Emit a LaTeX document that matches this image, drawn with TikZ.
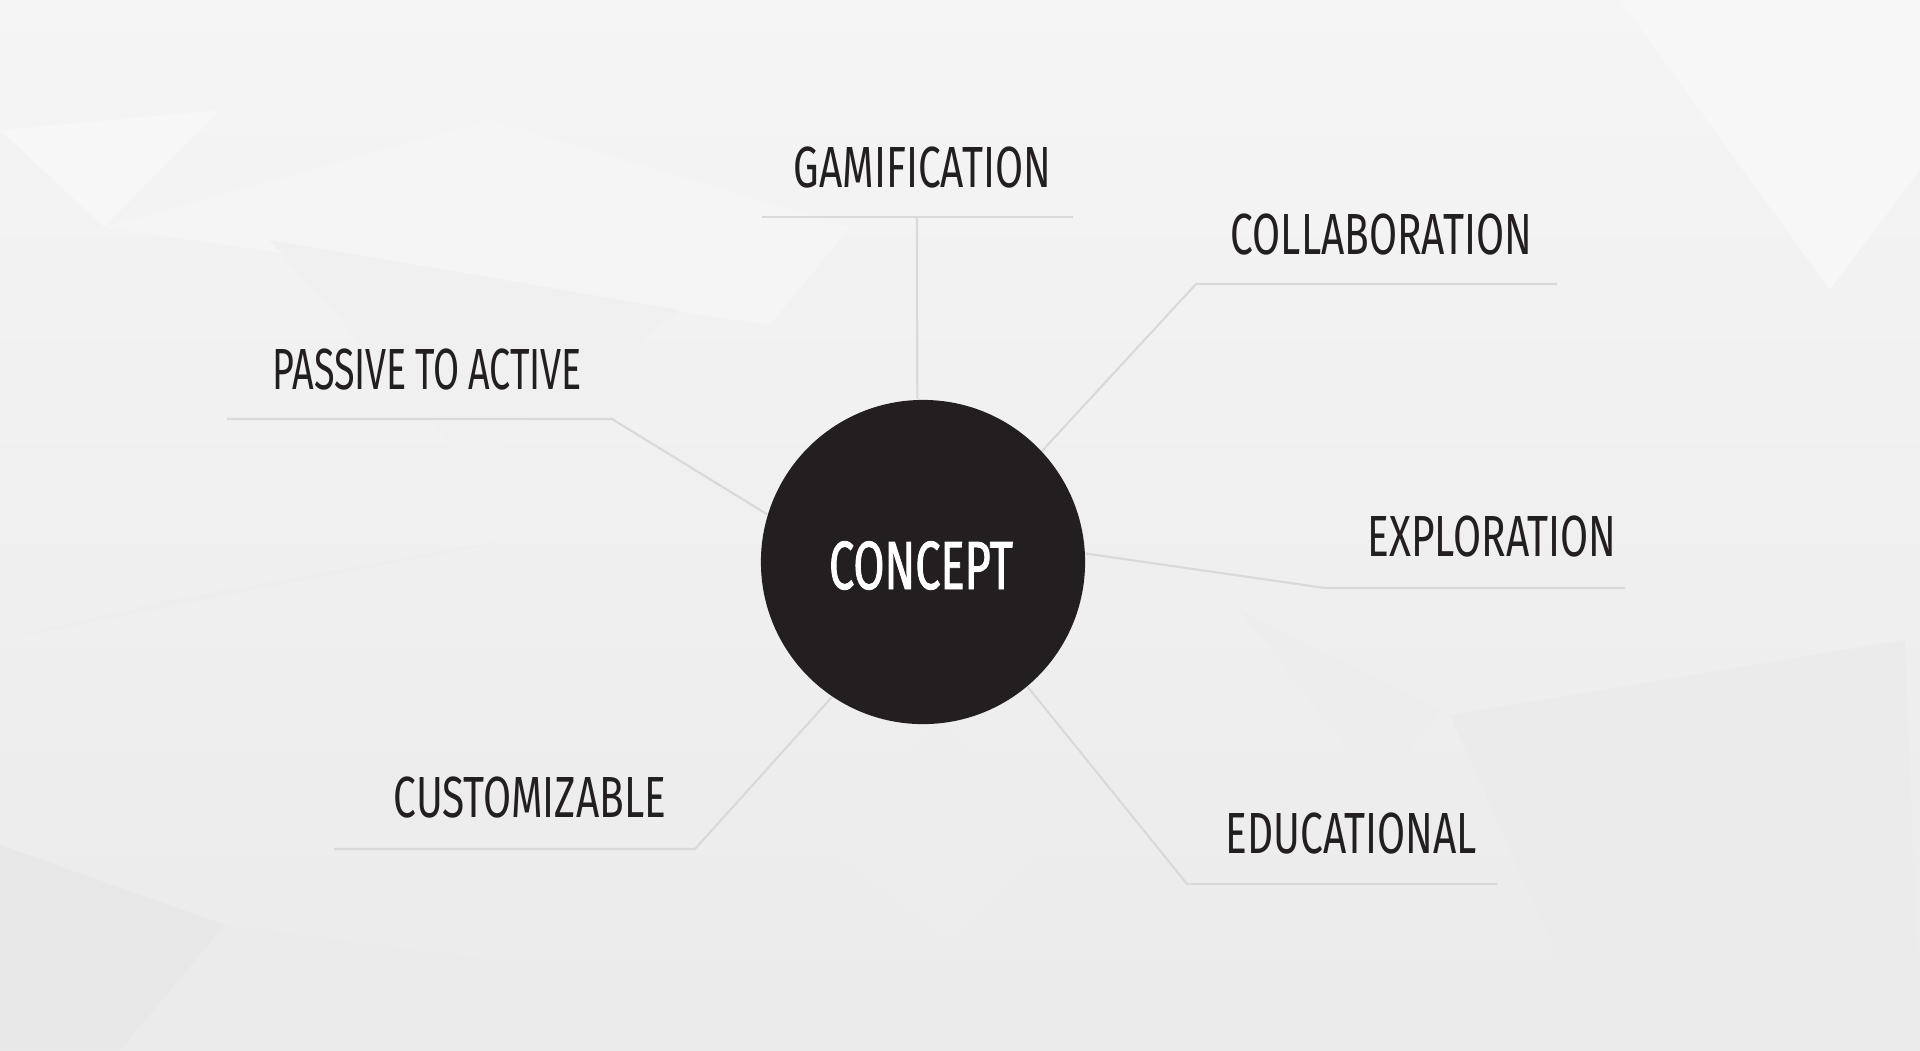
\documentclass[tikz,border=0pt]{standalone}
\usepackage{fontspec}
\newfontfamily\labelfont{Fira Sans}[FakeStretch=0.70]
\newfontfamily\passivefont{Fira Sans}[FakeStretch=0.65]
\newfontfamily\conceptfont{Fira Sans}[FakeStretch=0.66,FakeBold=1.2]
\definecolor{hubgray}{RGB}{35,31,32}
\usetikzlibrary{positioning}

\begin{document}
\begin{tikzpicture}[x=0.01cm,y=-0.01cm,
  topic/.style={anchor=base west,inner sep=0pt,text=hubgray,font=\labelfont\fontsize{16.5}{18}\selectfont},
  hub/.style={circle,fill=hubgray,minimum size=3.24cm,inner sep=0pt},
  spoke/.style={draw=black!15,line width=0.6pt}]
\useasboundingbox (0,0) rectangle (1920,1050);
% background
\shade[top color=black!4,bottom color=black!8] (0,0) rectangle (1920,1050);
\fill[black!3] (0,130) -- (220,110) -- (104,227) -- cycle;
\fill[black!4] (104,227) -- (770,325) -- (850,227) -- (490,120) -- cycle;
\fill[black!6] (270,240) -- (680,310) -- (470,465) -- cycle;
\fill[black!7] (0,640) -- (535,535) -- (170,600) -- cycle;
\fill[black!9] (0,845) -- (225,925) -- (120,1050) -- (0,1050) -- cycle;
\fill[black!8] (225,925) -- (680,985) -- (600,1050) -- (120,1050) -- cycle;
\fill[black!8] (1450,715) -- (1905,640) -- (1920,1050) -- (1600,1050) -- cycle;
\fill[black!3] (1620,0) -- (1920,0) -- (1920,170) -- (1830,290) -- cycle;
\fill[black!7] (1240,610) -- (1440,710) -- (1380,790) -- cycle;
\fill[black!7] (940,720) -- (1060,830) -- (950,940) -- (830,850) -- cycle;

\node[hub] (concept) at (923,562) {};
\node[anchor=base,inner sep=0pt,text=white,font=\conceptfont\fontsize{19.4}{22}\selectfont] (conceptlabel) at (921,589) {CONCEPT};

\node[topic] (gamification) at (793,187) {GAMIFICATION};
\node[topic] (collaboration) at (1230,254) {COLLABORATION};
\node[topic,font=\passivefont\fontsize{16.5}{18}\selectfont] (passive) at (272,389) {\spaceskip=2.4pt PASSIVE TO ACTIVE};
\node[topic] (exploration) at (1367,556) {EXPLORATION};
\node[topic] (customizable) at (393,817) {CUSTOMIZABLE};
\node[topic] (educational) at (1225,853) {EDUCATIONAL};

\coordinate (gamiL) at (762,217);
\coordinate (gamiR) at (1073,217);
\coordinate (gamiB) at (917,217);
\coordinate (collB) at (1196,284);
\coordinate (collR) at (1557,284);
\coordinate (passB) at (612,419);
\coordinate (passL) at (227,419);
\coordinate (explB) at (1325,588);
\coordinate (explR) at (1625,588);
\coordinate (custB) at (695,849);
\coordinate (custL) at (334,849);
\coordinate (educB) at (1187,884);
\coordinate (educR) at (1497,884);

\draw[spoke] (gamiL) -- (gamiR);
\draw[spoke] (concept.92) -- (gamiB);
\draw[spoke] (concept.43) -- (collB) -- (collR);
\draw[spoke] (concept.163) -- (passB) -- (passL);
\draw[spoke] (concept.3) -- (explB) -- (explR);
\draw[spoke] (concept.236) -- (custB) -- (custL);
\draw[spoke] (concept.310) -- (educB) -- (educR);
\end{tikzpicture}
\end{document}
